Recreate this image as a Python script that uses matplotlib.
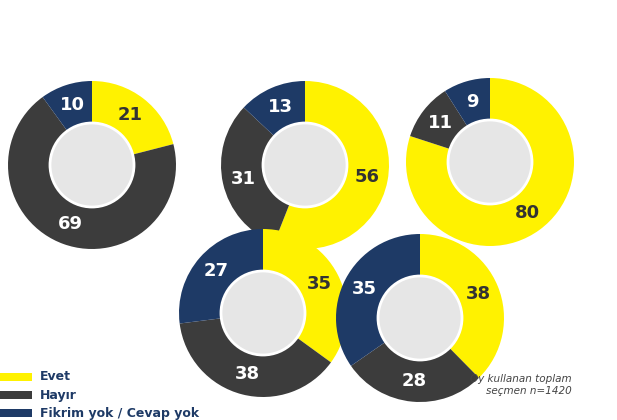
import matplotlib
matplotlib.use("Agg")
import matplotlib.pyplot as plt
from matplotlib.patches import Circle, Rectangle

categories = ["Evet", "Hayır", "Fikrim yok / Cevap yok"]
colors = ["#FFF200", "#3C3C3C", "#1E3A66"]
text_colors = ["#333333", "white", "white"]
values = [
    [21, 69, 10],
    [56, 31, 13],
    [80, 11, 9],
    [35, 38, 27],
    [38, 28, 35],
]
centers = [(92, 165), (305, 165), (490, 162), (263, 313), (420, 318)]
R_OUT, R_IN = 84, 42
H = 420

fig = plt.figure(figsize=(6.17, 4.2), dpi=100)
ax = fig.add_axes([0, 0, 1, 1])
for vals, (cx, cy) in zip(values, centers):
    c = (cx, H - cy)
    wedges, texts = ax.pie(vals, colors=colors, startangle=90, counterclock=False,
                           center=c, radius=R_OUT,
                           wedgeprops=dict(width=R_OUT - R_IN, edgecolor="none"),
                           labels=[str(v) for v in vals], labeldistance=(R_OUT + R_IN) / 2 / R_OUT,
                           textprops=dict(fontsize=13, fontweight="bold"))
    for t, col in zip(texts, text_colors):
        t.set_color(col); t.set_ha("center"); t.set_va("center")
    ax.add_patch(Circle(c, R_IN, facecolor="#E6E6E6", edgecolor="white", lw=2))
ax.set_xlim(0, 617)
ax.set_ylim(0, H)
ax.set_aspect("equal")
ax.axis("off")

for i, (lab, col) in enumerate(zip(categories, colors)):
    y = H - (377 + i * 18)
    ax.add_patch(Rectangle((0, y - 4), 32, 8, facecolor=col, edgecolor="none"))
    ax.text(40, y, lab, fontsize=9, color="#1E3A66", fontweight="bold", va="center")
ax.text(572, H - 385, "Oy kullanan toplam\nseçmen n=1420", fontsize=7.5, style="italic",
        color="#444444", ha="right", va="center")
fig.savefig("out.png", dpi=100)
